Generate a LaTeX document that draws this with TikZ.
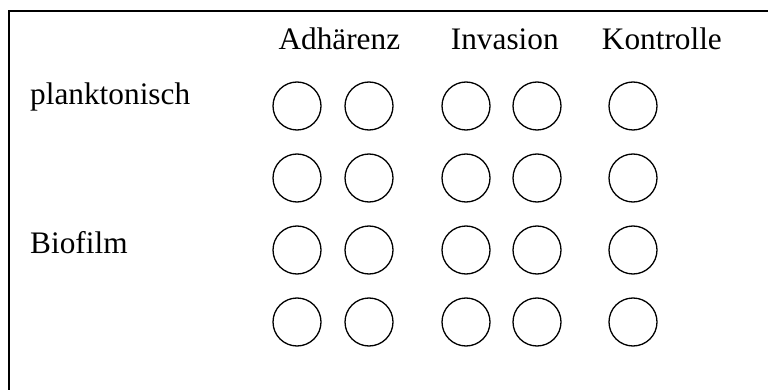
\documentclass[tikz,border=0pt]{standalone}
\usepackage{fontspec}
\setmainfont{Liberation Serif}
\begin{document}
\begin{tikzpicture}[x=1pt,y=-1pt,
  lbl/.style={anchor=base west,inner sep=0pt,font=\fontsize{31.3}{36}\selectfont},
  well/.style={circle,draw,line width=1.3pt,minimum size=48pt,inner sep=0pt},
  frameline/.style={line width=1.8pt}]
  \useasboundingbox (0,0) rectangle (768,390);
  % open frame: top and left edges only
  \coordinate (fr) at (768,11);
  \coordinate (fc) at (9,11);
  \coordinate (fb) at (9,390);
  \draw[frameline] (fr) -- (fc) -- (fb);
  % column headings
  \node[lbl] (adh) at (278.3,50) {Adhärenz};
  \node[lbl] (inv) at (450.7,50) {Invasion};
  \node[lbl] (kon) at (601.7,50) {Kontrolle};
  % row labels
  \node[lbl] (plank) at (30,105) {planktonisch};
  \node[lbl] (bio) at (30,253.3) {Biofilm};
  % grid of wells
  \foreach \r/\y in {1/106,2/178,3/250,4/322}{
    \foreach \c/\x in {1/297,2/369,3/466,4/537,5/633}{
      \node[well] (w\r\c) at (\x,\y) {};
    }
  }
\end{tikzpicture}
\end{document}
